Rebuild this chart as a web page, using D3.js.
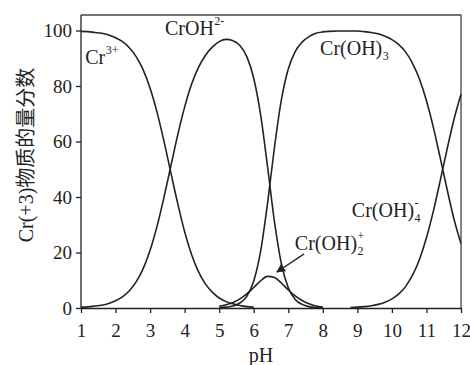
<!DOCTYPE html>
<html><head><meta charset="utf-8">
<script src="https://cdn.jsdelivr.net/npm/d3@7"></script>
<style>
body{margin:0;background:#fff;}
</style></head>
<body><svg id="c" width="470" height="365"></svg>
<script>
// pH sample points
const pH = [1.0,1.2,1.4,1.6,1.8,2.0,2.2,2.4,2.6,2.8,3.0,3.2,3.4,3.6,3.8,4.0,4.2,4.4,4.6,4.8,
  5.0,5.2,5.4,5.6,5.8,6.0,6.2,6.4,6.6,6.8,7.0,7.2,7.4,7.6,7.8,8.0,8.2,8.4,8.6,8.8,
  9.0,9.2,9.4,9.6,9.8,10.0,10.2,10.4,10.6,10.8,11.0,11.2,11.4,11.6,11.8,12.0];
const N = null;
const cr3 = [99.7,99.6,99.3,99.0,98.4,97.4,96.0,93.8,90.5,85.8,79.2,70.6,60.2,48.8,37.6,27.5,19.3,13.1,8.7,5.7,
  3.6,2.3,1.5,0.9,0.5,0.3,N,N,N,N,N,N,N,N,N,N,N,N,N,N,
  N,N,N,N,N,N,N,N,N,N,N,N,N,N,N,N];
const crOH = [0.3,0.4,0.7,1.0,1.6,2.6,4.0,6.2,9.5,14.2,20.8,29.4,39.8,51.1,62.4,72.4,80.6,86.7,91.0,94.0,
  96.0,96.8,96.3,94.6,90.6,82.8,69.6,50.9,31.1,16.0,7.3,3.1,1.3,0.5,0.2,0.1,N,N,N,N,
  N,N,N,N,N,N,N,N,N,N,N,N,N,N,N,N];
const crOH2 = [N,N,N,N,N,N,N,N,N,N,N,N,N,N,N,N,N,N,N,N,
  0.6,1.2,2.0,3.3,5.1,7.4,9.8,11.4,11.0,9.0,6.5,4.4,2.7,1.5,0.7,0.3,N,N,N,N,
  N,N,N,N,N,N,N,N,N,N,N,N,N,N,N,N];
const crOH3 = [N,N,N,N,N,N,N,N,N,N,N,N,N,N,N,N,N,N,N,N,
  0.1,0.3,0.7,1.8,4.2,9.7,20.5,37.7,57.9,75.0,86.1,92.4,95.8,97.8,99.0,99.5,99.7,99.8,99.8,99.8,
  99.8,99.6,99.3,98.8,97.9,96.7,94.9,92.2,88.1,82.4,74.7,65.1,54.0,42.6,31.9,23.2];
const crOH4 = [N,N,N,N,N,N,N,N,N,N,N,N,N,N,N,N,N,N,N,N,
  N,N,N,N,N,N,N,N,N,N,N,N,N,N,N,N,N,N,N,0.2,
  0.3,0.5,0.8,1.3,2.1,3.3,5.1,7.8,11.9,17.6,25.3,34.9,46.0,57.4,68.1,77.0];
const series = [cr3, crOH, crOH2, crOH3, crOH4];
const xTicks = [1,2,3,4,5,6,7,8,9,10,11,12];
const yTicks = [0,20,40,60,80,100];
const yTitle = "Cr(+3)物质的量分数";
const xTitle = "pH";

const SERIF = "'Liberation Serif','Times New Roman',serif";
const svg = d3.select("#c");
const L=81, R=461, T=15, B=308;
const x = d3.scaleLinear().domain([1,12]).range([L,R]);
const y = d3.scaleLinear().domain([0,100]).range([B,30.5]);
const ink = "#222";

// frame
svg.append("path").attr("d",`M${L},${T}H${R}V${B}`).attr("fill","none").attr("stroke","#444").attr("stroke-width",1.3);

// axes
const gx = svg.append("g").attr("transform",`translate(0,${B})`)
  .call(d3.axisBottom(x).tickValues(xTicks).tickFormat(d3.format("d")).tickSize(5).tickSizeOuter(0).tickPadding(11));
const gy = svg.append("g").attr("transform",`translate(${L},0)`)
  .call(d3.axisLeft(y).tickValues(yTicks).tickSize(5).tickSizeOuter(0).tickPadding(4));
gy.select(".domain").attr("d",`M0,${B}V${T}`);
[gx,gy].forEach(g=>{
  g.attr("font-family",null).attr("font-size",null);
  g.selectAll("path,line").attr("stroke",ink).attr("stroke-width",1.3);
  g.selectAll("text").style("font-family",SERIF).style("font-size","19px").attr("fill",ink);
});

// curves
const line = d3.line().defined(d=>d[1]!==null).x(d=>x(d[0])).y(d=>y(d[1])).curve(d3.curveMonotoneX);
series.forEach(s=>{
  svg.append("path").datum(pH.map((p,i)=>[p,s[i]])).attr("d",line)
    .attr("fill","none").attr("stroke",ink).attr("stroke-width",1.6);
});

// labels: one text element per label, sup/sub as tspans
function label(px, py, main, sup, sub){
  const t = svg.append("text").attr("x",px).attr("y",py).attr("fill",ink)
    .style("font-family",SERIF).style("font-size","20px");
  const m = t.append("tspan").text(main);
  const w = m.node().getComputedTextLength();
  if(sup) t.append("tspan").attr("x",px+w+0.5).attr("y",py-10).style("font-size","12px").text(sup);
  if(sub) t.append("tspan").attr("x",px+w+0.5).attr("y",py+5).style("font-size","12px").text(sub);
  return t;
}
label(x(1.12), y(87.9), "Cr", "3+", null);
label(x(3.43), y(98.4), "CrOH", "2-", null);
label(x(7.92), y(91.2), "Cr(OH)", null, "3");
label(x(8.84), y(32.8), "Cr(OH)", "-", "4");
label(x(7.19), y(20.9), "Cr(OH)", "+", "2");

// arrow
svg.append("defs").append("marker").attr("id","ah").attr("viewBox","0 0 10 10").attr("refX",9).attr("refY",5)
  .attr("markerWidth",9).attr("markerHeight",9).attr("orient","auto").attr("markerUnits","userSpaceOnUse")
  .append("path").attr("d","M0,0L10,5L0,10Z").attr("fill",ink);
svg.append("line").attr("x1",x(7.46)).attr("y1",y(19.5)).attr("x2",x(6.67)).attr("y2",y(13.0))
  .attr("stroke",ink).attr("stroke-width",1.3).attr("marker-end","url(#ah)");

// axis titles
svg.append("text").attr("x",261).attr("y",362).attr("text-anchor","middle").attr("fill",ink)
  .style("font-family",SERIF).style("font-size","20px").text(xTitle);
svg.append("text").attr("transform","translate(33,155) rotate(-90)").attr("text-anchor","middle")
  .attr("fill",ink).style("font-size","20px")
  .style("font-family","'Liberation Serif','Noto Sans CJK SC',serif").text(yTitle);
</script></body></html>
